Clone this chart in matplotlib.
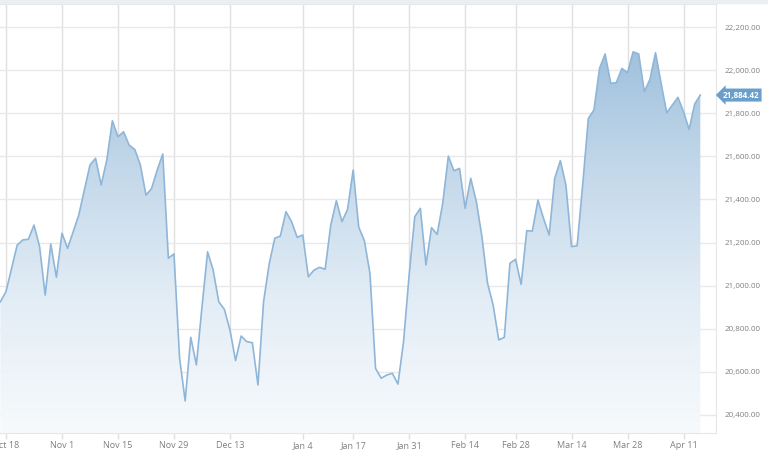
import numpy as np
import matplotlib
matplotlib.use("Agg")
import matplotlib.pyplot as plt
from matplotlib.colors import LinearSegmentedColormap
from matplotlib.patches import Rectangle

plt.rcParams['font.family'] = ['Open Sans', 'DejaVu Sans']

# closing values, one per trading day (index -1 .. 124)
values = [
    20925, 20972, 21080, 21188, 21212, 21215, 21281, 21181, 20956, 21193,
    21039, 21243, 21173, 21250, 21328, 21444, 21560, 21591, 21467, 21583,
    21765, 21691, 21714, 21652, 21632, 21560, 21420, 21451, 21536, 21611,
    21127, 21147, 20664, 20465, 20760, 20632, 20900, 21157, 21072, 20925,
    20890, 20794, 20652, 20766, 20740, 20735, 20539, 20925, 21100, 21220,
    21230, 21343, 21297, 21224, 21235, 21041, 21072, 21085, 21076, 21281,
    21394, 21297, 21354, 21536, 21271, 21209, 21057, 20616, 20570, 20585,
    20593, 20543, 20740, 21050, 21320, 21359, 21096, 21269, 21238, 21382,
    21601, 21533, 21544, 21359, 21498, 21390, 21227, 21011, 20910, 20748,
    20760, 21104, 21122, 21006, 21255, 21253, 21397, 21312, 21235, 21498,
    21580, 21467, 21181, 21185, 21470, 21776, 21815, 22008, 22075, 21939,
    21942, 22008, 21988, 22085, 22075, 21900, 21957, 22081, 21939, 21802,
    21838, 21874, 21807, 21725, 21843, 21884.42,
]
first_index = -1

tick_labels = ["Oct 18", "Nov 1", "Nov 15", "Nov 29", "Dec 13", "Jan 4", "Jan 17",
               "Jan 31", "Feb 14", "Feb 28", "Mar 14", "Mar 28", "Apr 11"]
tick_index = [0, 10, 20, 30, 40, 53, 62, 72, 82, 91, 101, 111, 121]
y_ticks = [20400, 20600, 20800, 21000, 21200, 21400, 21600, 21800, 22000, 22200]

x = np.arange(first_index, first_index + len(values))
y = np.array(values)

fig = plt.figure(figsize=(7.68, 4.54), dpi=100)
fig.patches.append(Rectangle((0, 1 - 3 / 454), 1, 3 / 454, transform=fig.transFigure,
                             color="#eceff2", zorder=0))
ax = fig.add_axes([0, 21 / 454, 716 / 768, 429 / 454])

ymin, ymax = 20316, 22307
xmin, xmax = -1.07, 126.8
ax.set_xlim(xmin, xmax)
ax.set_ylim(ymin, ymax)

# gradient fill clipped to the area under the line
cmap = LinearSegmentedColormap.from_list(
    "fade", ["#f7fafc", "#e3edf6", "#c3d8ea", "#9cbedb"])
grad = np.linspace(0, 1, 256).reshape(-1, 1)
img = ax.imshow(grad, extent=[xmin, xmax, ymin, 22150], origin="lower",
                aspect="auto", cmap=cmap, zorder=1)
poly = ax.fill_between(x, y, ymin, facecolor="none", edgecolor="none")
clip = poly.get_paths()[0]
img.set_clip_path(clip, transform=ax.transData)
ax.plot(x, y, color="#8fb6d8", lw=1.2, zorder=3)

ax.set_xticks(tick_index)
ax.set_xticklabels(tick_labels)
ax.set_yticks(y_ticks)
ax.set_yticklabels([f"{v:,.2f}" for v in y_ticks])
ax.yaxis.tick_right()
ax.tick_params(axis="y", length=0, pad=6, labelsize=5.8, labelcolor="#808080")
ax.tick_params(axis="x", length=4, width=1, color="#e0e0e0", pad=2,
               labelsize=6.5, labelcolor="#808080")
ax.grid(axis="y", color="#e9e9e9", lw=1, zorder=0)
ax.grid(axis="x", color="#e0e0e0", lw=1, zorder=0)
ax.set_axisbelow(True)
for s in ax.spines.values():
    s.set_color("#e6e6e6")
ax.spines["left"].set_visible(False)

# last value marker on the right axis
last = values[-1]
ax.annotate(f"{last:,.2f}", xy=(1.0, last), xycoords=("axes fraction", "data"),
            xytext=(5, 0), textcoords="offset points", ha="left", va="center",
            fontsize=5.8, fontweight="bold", color="white",
            bbox=dict(boxstyle="larrow,pad=0.25", fc="#6a9fcc", ec="none"),
            annotation_clip=False)

fig.savefig("out.png", dpi=100)
